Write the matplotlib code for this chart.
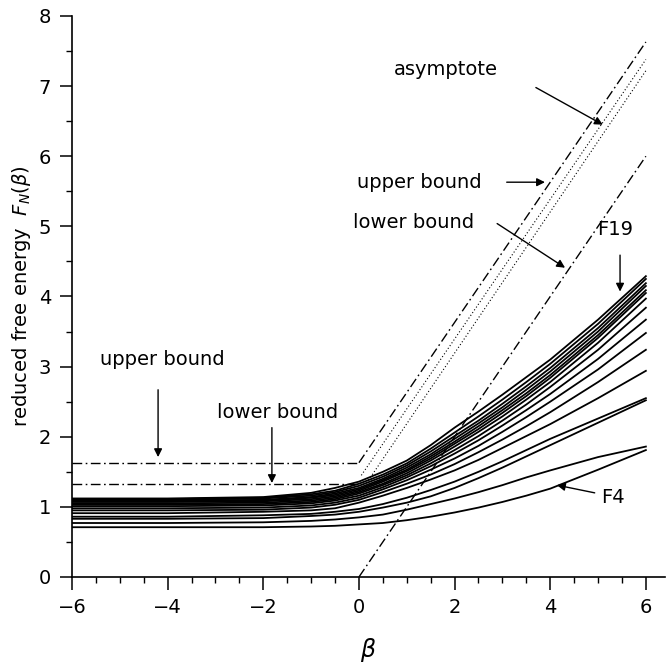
import matplotlib.pyplot as plt
from matplotlib.ticker import MultipleLocator

beta = [-6, -4, -2, -1, -0.5, 0, 0.5, 1, 1.5, 2, 2.5, 3, 3.5, 4, 5, 6]

# reduced free energy F_N(beta), N = 4 ... 19
F4 = [0.71, 0.71, 0.71, 0.72, 0.73, 0.75, 0.77, 0.81, 0.86, 0.92, 0.99, 1.07, 1.16, 1.26, 1.53, 1.81]
F5 = [0.77, 0.77, 0.78, 0.80, 0.82, 0.85, 0.89, 0.96, 1.04, 1.12, 1.21, 1.31, 1.42, 1.52, 1.71, 1.86]
F6 = [0.83, 0.83, 0.84, 0.87, 0.89, 0.93, 0.99, 1.06, 1.15, 1.27, 1.41, 1.56, 1.72, 1.88, 2.20, 2.52]
F7 = [0.86, 0.86, 0.88, 0.90, 0.93, 0.97, 1.04, 1.13, 1.24, 1.36, 1.50, 1.65, 1.81, 1.97, 2.26, 2.55]
F8 = [0.91, 0.91, 0.93, 0.95, 0.98, 1.06, 1.16, 1.27, 1.39, 1.52, 1.67, 1.84, 2.01, 2.18, 2.55, 2.94]
F9 = [0.95, 0.95, 0.96, 0.99, 1.03, 1.10, 1.21, 1.33, 1.46, 1.61, 1.78, 1.96, 2.15, 2.35, 2.78, 3.24]
F10 = [0.98, 0.98, 0.99, 1.02, 1.06, 1.13, 1.25, 1.38, 1.53, 1.69, 1.87, 2.07, 2.28, 2.50, 2.96, 3.48]
F11 = [1.01, 1.01, 1.02, 1.05, 1.09, 1.16, 1.28, 1.42, 1.58, 1.76, 1.95, 2.16, 2.38, 2.61, 3.11, 3.67]
F12 = [1.03, 1.03, 1.04, 1.07, 1.11, 1.19, 1.31, 1.45, 1.62, 1.81, 2.01, 2.23, 2.46, 2.71, 3.24, 3.84]
F13 = [1.05, 1.05, 1.06, 1.09, 1.13, 1.21, 1.33, 1.48, 1.66, 1.86, 2.07, 2.29, 2.53, 2.78, 3.34, 3.97]
F14 = [1.07, 1.07, 1.08, 1.11, 1.15, 1.23, 1.36, 1.51, 1.69, 1.90, 2.11, 2.34, 2.58, 2.84, 3.41, 4.05]
F15 = [1.08, 1.08, 1.09, 1.13, 1.17, 1.25, 1.38, 1.53, 1.72, 1.93, 2.15, 2.38, 2.62, 2.88, 3.45, 4.09]
F16 = [1.09, 1.09, 1.10, 1.14, 1.19, 1.27, 1.40, 1.56, 1.75, 1.97, 2.19, 2.42, 2.67, 2.93, 3.50, 4.15]
F17 = [1.10, 1.10, 1.12, 1.16, 1.21, 1.30, 1.43, 1.59, 1.79, 2.01, 2.23, 2.47, 2.72, 2.98, 3.55, 4.19]
F18 = [1.11, 1.11, 1.13, 1.18, 1.23, 1.33, 1.46, 1.62, 1.83, 2.06, 2.29, 2.53, 2.78, 3.04, 3.61, 4.25]
F19 = [1.12, 1.12, 1.14, 1.20, 1.27, 1.36, 1.50, 1.66, 1.88, 2.13, 2.36, 2.60, 2.85, 3.10, 3.67, 4.29]
curves = [F4, F5, F6, F7, F8, F9, F10, F11, F12, F13, F14, F15, F16, F17, F18, F19]

# bounds and asymptotes
bound_beta_neg = [-6, 0]
upper_neg = [1.63, 1.63]
lower_neg = [1.32, 1.32]
bound_beta_pos = [0, 6]
upper_pos = [1.63, 7.63]
lower_pos = [0, 6]
asym1_beta = [0.05, 6]
asym1 = [1.45, 7.38]
asym2_beta = [0.2, 6]
asym2 = [1.38, 7.22]

fig = plt.figure(figsize=(6.66, 6.70), dpi=100)
ax = fig.add_axes([72 / 666, 1 - 577 / 670, (665 - 72) / 666, (577 - 16) / 670])

for c in curves:
    ax.plot(beta, c, color='black', lw=1.3)

dashdot = (0, (7, 2.5, 1.2, 2.5))
ax.plot(bound_beta_neg, upper_neg, color='black', lw=1.0, linestyle=dashdot)
ax.plot(bound_beta_neg, lower_neg, color='black', lw=1.0, linestyle=dashdot)
ax.plot(bound_beta_pos, upper_pos, color='black', lw=1.0, linestyle=dashdot)
ax.plot(bound_beta_pos, lower_pos, color='black', lw=1.0, linestyle=dashdot)
ax.plot(asym1_beta, asym1, color='black', lw=0.8, linestyle=(0, (1, 2)))
ax.plot(asym2_beta, asym2, color='black', lw=0.8, linestyle=(0, (1, 2)))

ax.set_xlim(-6, 6.4)
ax.set_ylim(0, 8)
ax.set_xticks([-6, -4, -2, 0, 2, 4, 6])
ax.set_xticklabels(['\u22126', '\u22124', '\u22122', '0', '2', '4', '6'])
ax.xaxis.set_minor_locator(MultipleLocator(0.5))
ax.yaxis.set_minor_locator(MultipleLocator(0.5))
ax.spines['top'].set_visible(False)
ax.spines['right'].set_visible(False)
for s in ['left', 'bottom']:
    ax.spines[s].set_linewidth(1.2)
ax.tick_params(which='major', direction='out', length=9, width=1.1, labelsize=14, pad=6)
ax.tick_params(which='minor', direction='out', length=4.5, width=1.0)

ax.set_ylabel('reduced free energy  $F_N(\\beta)$', fontsize=14, labelpad=4)
ax.set_xlabel(r'$\beta$', fontsize=17, labelpad=14)

arrow = dict(arrowstyle='-|>', color='black', lw=1.0, mutation_scale=12, shrinkA=0, shrinkB=0)
fs = 14
ax.text(1.82, 7.23, 'asymptote', fontsize=fs, ha='center', va='center')
ax.annotate('', xy=(5.10, 6.45), xytext=(3.70, 6.98), arrowprops=arrow)
ax.text(1.26, 5.63, 'upper bound', fontsize=fs, ha='center', va='center')
ax.annotate('', xy=(3.89, 5.63), xytext=(3.09, 5.63), arrowprops=arrow)
ax.text(1.15, 5.06, 'lower bound', fontsize=fs, ha='center', va='center')
ax.annotate('', xy=(4.31, 4.41), xytext=(2.89, 5.04), arrowprops=arrow)
ax.text(5.35, 4.96, 'F19', fontsize=fs, ha='center', va='center')
ax.annotate('', xy=(5.46, 4.07), xytext=(5.46, 4.59), arrowprops=arrow)
ax.text(5.31, 1.14, 'F4', fontsize=fs, ha='center', va='center')
ax.annotate('', xy=(4.14, 1.31), xytext=(4.93, 1.20), arrowprops=arrow)
ax.text(-4.12, 3.10, 'upper bound', fontsize=fs, ha='center', va='center')
ax.annotate('', xy=(-4.2, 1.71), xytext=(-4.2, 2.67), arrowprops=arrow)
ax.text(-1.71, 2.34, 'lower bound', fontsize=fs, ha='center', va='center')
ax.annotate('', xy=(-1.82, 1.34), xytext=(-1.82, 2.13), arrowprops=arrow)

fig.savefig('out.png', dpi=100)
